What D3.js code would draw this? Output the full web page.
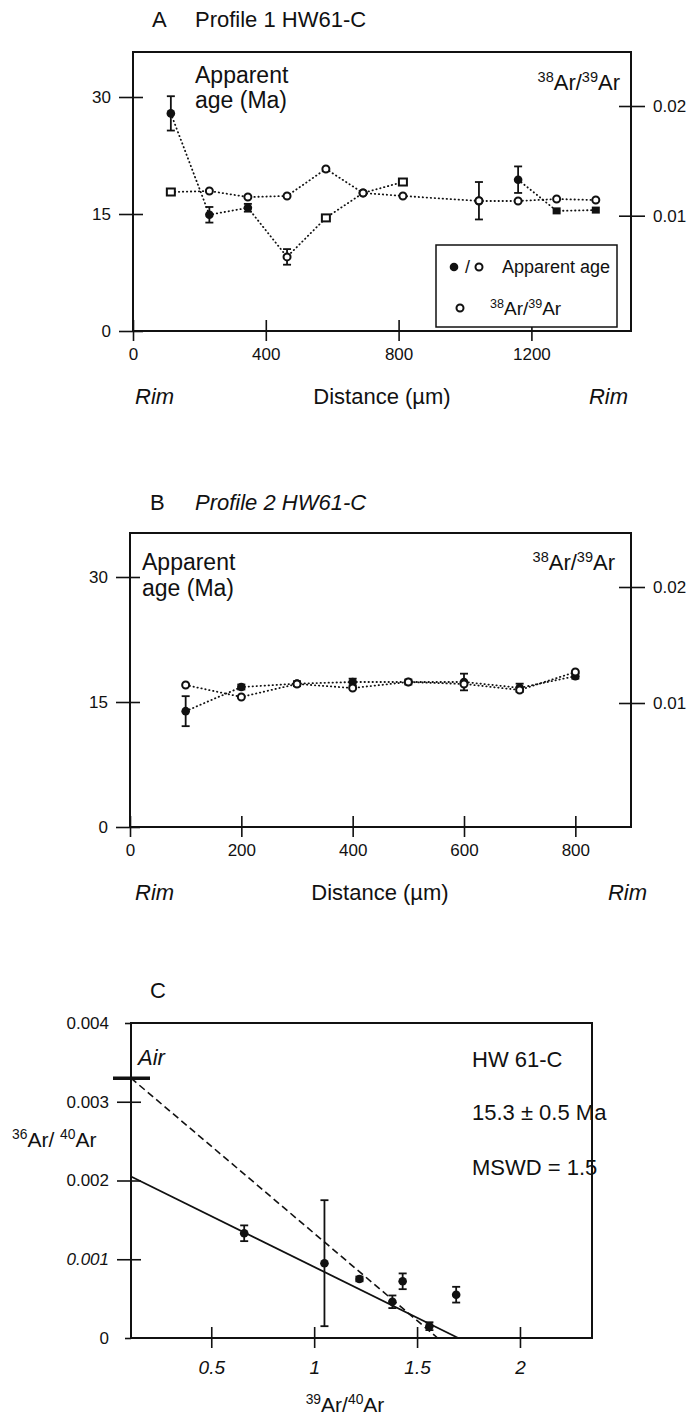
<!DOCTYPE html>
<html lang="en">
<head>
<meta charset="UTF-8">
<title>HW61-C profiles and isochron</title>
<script src="https://cdn.jsdelivr.net/npm/d3@7"></script>
<style>
  body { margin: 0; background: #fff; }
  svg text { font-family: "Liberation Sans", Arial, Helvetica, sans-serif; fill: #111; }
</style>
</head>
<body>
<svg id="chart" width="689" height="1425"></svg>
<script>
// ---------- values ----------
// A: profile 1
const distA    = [114, 230, 346, 464, 581, 693, 813, 1042, 1160, 1276, 1394];
const ageA     = [27.9, 14.9, 15.8, 9.5, 14.5, 17.7, 19.1, 16.7, 19.4, 15.4, 15.5];
const ageErrA  = [2.2, 1.0, 0.5, 1.0, 0, 0, 0, 2.4, 1.7, 0, 0];
const ageSymA  = ["filled", "filled", "filled", "open", "square", "open", "square", "open", "filled", "fsquare", "fsquare"];
const ageSegA  = [1, 1, 1, 1, 1, 1, 1, 0, 2, 2, 2];   // 0 = point not joined by the dotted line
const ratioA   = [0.01216, 0.01225, 0.0117, 0.0118, 0.01426, 0.01207, 0.0118, 0.01134, 0.01134, 0.01152, 0.01143];
const ratioSymA = ["square", "open", "open", "open", "open", "open", "open", "open", "open", "open", "open"];

// B: profile 2
const distB   = [100, 200, 300, 400, 500, 600, 700, 800];
const ageB    = [13.9, 16.8, 17.2, 17.4, 17.4, 17.4, 16.7, 18.1];
const ageErrB = [1.8, 0.3, 0.3, 0.4, 0.3, 1.0, 0.5, 0.3];
const ratioB  = [0.01155, 0.01052, 0.01164, 0.01129, 0.01181, 0.01164, 0.01112, 0.01267];

// C: inverse isochron
const x3940    = [0.66, 1.05, 1.22, 1.38, 1.43, 1.56, 1.69];
const y3640    = [0.00133, 0.00095, 0.00075, 0.00046, 0.00072, 0.00015, 0.00055];
const y3640Err = [0.0001, 0.0008, 0.00003, 0.00008, 0.0001, 0.00005, 0.0001];
const fitLine  = [[0.11, 0.00205], [1.70, 0]];
const airLine  = [[0.11, 0.00330], [1.60, 0]];
const airValue = 0.0033;

const ageTicks   = [0, 15, 30];
const ratioTicks = [0.01, 0.02];
const distTicksA = [0, 400, 800, 1200];
const distTicksB = [0, 200, 400, 600, 800];
const yTicksC    = [0, 0.001, 0.002, 0.003, 0.004];
const xTicksC    = [0.5, 1, 1.5, 2];

// ---------- helpers ----------
const ink = "#111";
const svg = d3.select("#chart");

function frame(l, t, r, b) {
  svg.append("rect").attr("x", l).attr("y", t).attr("width", r - l).attr("height", b - t)
    .attr("fill", "none").attr("stroke", ink).attr("stroke-width", 2);
}

function text(x, y, s, size, opts = {}) {
  return svg.append("text").attr("x", x).attr("y", y).attr("font-size", size)
    .attr("text-anchor", opts.anchor || "start")
    .attr("font-style", opts.italic ? "italic" : null)
    .text(s);
}

// 38Ar/39Ar style labels with superscript mass numbers
function arLabel(x, y, a, b, size, anchor, gap) {
  const t = svg.append("text").attr("x", x).attr("y", y).attr("font-size", size)
    .attr("text-anchor", anchor || "start");
  const up = size * 0.38, sup = size * 0.66;
  t.append("tspan").attr("font-size", sup).attr("dy", -up).text(a);
  t.append("tspan").attr("dy", up).text("Ar/" + (gap ? " " : ""));
  t.append("tspan").attr("font-size", sup).attr("dy", -up).text(b);
  t.append("tspan").attr("dy", up).text("Ar");
  return t;
}

function styleAxis(g, size) {
  g.attr("font-size", size);
  g.select(".domain").remove();
  g.selectAll(".tick line").attr("stroke", ink).attr("stroke-width", 1.6);
  g.selectAll(".tick text").attr("fill", ink);
}

function yAxis(scale, x, values, fmt, side) {
  const ax = side === "left" ? d3.axisLeft(scale) : d3.axisRight(scale);
  const g = svg.append("g").attr("transform", `translate(${x},0)`)
    .call(ax.tickValues(values).tickFormat(fmt).tickSize(14).tickPadding(8));
  styleAxis(g, 17);
  g.selectAll(".tick line").attr("x1", side === "left" ? 10 : -12);
  return g;
}

function xAxis(scale, y, values, fmt) {
  const g = svg.append("g").attr("transform", `translate(0,${y})`)
    .call(d3.axisBottom(scale).tickValues(values).tickFormat(fmt).tickSize(10).tickPadding(7));
  styleAxis(g, 17);
  g.selectAll(".tick line").attr("y1", -11);
  return g;
}

function symbol(g, type, cx, cy) {
  if (type === "filled") {
    g.append("circle").attr("cx", cx).attr("cy", cy).attr("r", 4.3).attr("fill", ink);
  } else if (type === "open") {
    g.append("circle").attr("cx", cx).attr("cy", cy).attr("r", 3.5)
      .attr("fill", "#fff").attr("stroke", ink).attr("stroke-width", 2);
  } else if (type === "square") {
    g.append("rect").attr("x", cx - 4).attr("y", cy - 3.5).attr("width", 8).attr("height", 7)
      .attr("fill", "#fff").attr("stroke", ink).attr("stroke-width", 2);
  } else {
    g.append("rect").attr("x", cx - 4).attr("y", cy - 3.5).attr("width", 8).attr("height", 7)
      .attr("fill", ink);
  }
}

function errBar(g, cx, y0, y1, cap) {
  g.append("line").attr("x1", cx).attr("x2", cx).attr("y1", y0).attr("y2", y1)
    .attr("stroke", ink).attr("stroke-width", 1.8);
  [y0, y1].forEach(yy => g.append("line").attr("x1", cx - cap).attr("x2", cx + cap)
    .attr("y1", yy).attr("y2", yy).attr("stroke", ink).attr("stroke-width", 1.8));
}

function dotted(points, x, y) {
  svg.append("path").datum(points)
    .attr("d", d3.line().x(d => x(d[0])).y(d => y(d[1])))
    .attr("fill", "none").attr("stroke", ink).attr("stroke-width", 1.8)
    .attr("stroke-linecap", "round").attr("stroke-dasharray", "0.4,3.6");
}

// ---------- panel A ----------
const A = { l: 133, r: 631, t: 52, b: 331 };
const xA = d3.scaleLinear().domain([0, 1500]).range([A.l, A.r]);
const yA = d3.scaleLinear().domain([0, 30]).range([A.b, 97]);
const rA = d3.scaleLinear().domain([0.01, 0.02]).range([215.7, 106]);

text(152, 27, "A", 22);
text(195, 27, "Profile 1 HW61-C", 22);
frame(A.l, A.t, A.r, A.b);
yAxis(yA, A.l, ageTicks, d3.format("d"), "left");
yAxis(rA, A.r, ratioTicks, d3.format(".2f"), "right");
xAxis(xA, A.b, distTicksA, d3.format("d"));

dotted(distA.map((d, i) => [d, ratioA[i]]), xA, rA);
d3.groups(distA.map((d, i) => ({ d, v: ageA[i], s: ageSegA[i] })).filter(p => p.s > 0), p => p.s)
  .forEach(([, pts]) => dotted(pts.map(p => [p.d, p.v]), xA, yA));

const gA = svg.append("g");
distA.forEach((d, i) => symbol(gA, ratioSymA[i], xA(d), rA(ratioA[i])));
distA.forEach((d, i) => {
  if (ageErrA[i] > 0) errBar(gA, xA(d), yA(ageA[i] + ageErrA[i]), yA(ageA[i] - ageErrA[i]), 4);
  symbol(gA, ageSymA[i], xA(d), yA(ageA[i]));
});

text(195, 83, "Apparent", 23);
text(195, 108, "age (Ma)", 23);
arLabel(620, 90, "38", "39", 22, "end");

// legend
svg.append("rect").attr("x", 436).attr("y", 245).attr("width", 181).attr("height", 82)
  .attr("fill", "#fff").attr("stroke", ink).attr("stroke-width", 1.5);
const gLeg = svg.append("g");
symbol(gLeg, "filled", 454, 267);
text(465, 273, "/", 18);
symbol(gLeg, "open", 479, 267);
text(502, 273, "Apparent age", 18);
symbol(gLeg, "open", 460, 308);
arLabel(490, 315, "38", "39", 19, "start");

text(135, 404, "Rim", 22, { italic: true });
text(382, 404, "Distance (\u00b5m)", 22, { anchor: "middle" });
text(628, 404, "Rim", 22, { italic: true, anchor: "end" });

// ---------- panel B ----------
const B = { l: 130, r: 631, t: 533, b: 827 };
const xB = d3.scaleLinear().domain([0, 900]).range([B.l, B.r]);
const yB = d3.scaleLinear().domain([0, 30]).range([B.b, 577]);
const rB = d3.scaleLinear().domain([0.01, 0.02]).range([703, 587]);

text(150, 510, "B", 22);
text(195, 510, "Profile 2 HW61-C", 22, { italic: true });
frame(B.l, B.t, B.r, B.b);
yAxis(yB, B.l, ageTicks, d3.format("d"), "left");
yAxis(rB, B.r, ratioTicks, d3.format(".2f"), "right");
xAxis(xB, B.b, distTicksB, d3.format("d"));

dotted(distB.map((d, i) => [d, ratioB[i]]), xB, rB);
dotted(distB.map((d, i) => [d, ageB[i]]), xB, yB);

const gB = svg.append("g");
distB.forEach((d, i) => {
  errBar(gB, xB(d), yB(ageB[i] + ageErrB[i]), yB(ageB[i] - ageErrB[i]), 4);
  symbol(gB, "filled", xB(d), yB(ageB[i]));
});
distB.forEach((d, i) => symbol(gB, "open", xB(d), rB(ratioB[i])));

text(142, 570, "Apparent", 23);
text(142, 596, "age (Ma)", 23);
arLabel(615, 570, "38", "39", 22, "end");

text(135, 900, "Rim", 22, { italic: true });
text(380, 900, "Distance (\u00b5m)", 22, { anchor: "middle" });
text(647, 900, "Rim", 22, { italic: true, anchor: "end" });

// ---------- panel C ----------
const C = { l: 131, r: 592, t: 1023, b: 1338 };
const xC = d3.scaleLinear().domain([0.11, 2.35]).range([C.l, C.r]);
const yC = d3.scaleLinear().domain([0, 0.004]).range([C.b, C.t]);

text(150, 998, "C", 22);
frame(C.l, C.t, C.r, C.b);
const gyC = yAxis(yC, C.l, yTicksC, d => d === 0 ? "0" : d3.format(".3f")(d), "left");
gyC.selectAll(".tick").filter(d => d === 0 || d === 0.004).select("line").attr("x1", 0).attr("x2", -6);
gyC.selectAll(".tick").filter(d => d === 0.001).select("text").attr("font-style", "italic");
const gxC = xAxis(xC, C.b, xTicksC, d3.format(""));
gxC.attr("font-size", 19).selectAll(".tick text").attr("font-style", "italic").attr("dy", "1em");

const lineC = d3.line().x(d => xC(d[0])).y(d => yC(d[1]));
svg.append("path").datum(fitLine).attr("d", lineC)
  .attr("fill", "none").attr("stroke", ink).attr("stroke-width", 1.8);
svg.append("path").datum(airLine).attr("d", lineC)
  .attr("fill", "none").attr("stroke", ink).attr("stroke-width", 1.6).attr("stroke-dasharray", "7,4");

svg.append("line").attr("x1", C.l - 18).attr("x2", C.l + 19)
  .attr("y1", yC(airValue)).attr("y2", yC(airValue)).attr("stroke", ink).attr("stroke-width", 3.5);
text(138, 1065, "Air", 22, { italic: true });

const gC = svg.append("g");
x3940.forEach((d, i) => {
  errBar(gC, xC(d), yC(y3640[i] + y3640Err[i]), yC(y3640[i] - y3640Err[i]), 4);
  symbol(gC, "filled", xC(d), yC(y3640[i]));
});

arLabel(12, 1147, "36", "40", 21, "start", true);
text(472, 1067, "HW 61-C", 22);
text(472, 1120, "15.3 \u00b1 0.5 Ma", 22);
text(472, 1175, "MSWD = 1.5", 22);
arLabel(345, 1412, "39", "40", 21, "middle");
</script>
</body>
</html>
